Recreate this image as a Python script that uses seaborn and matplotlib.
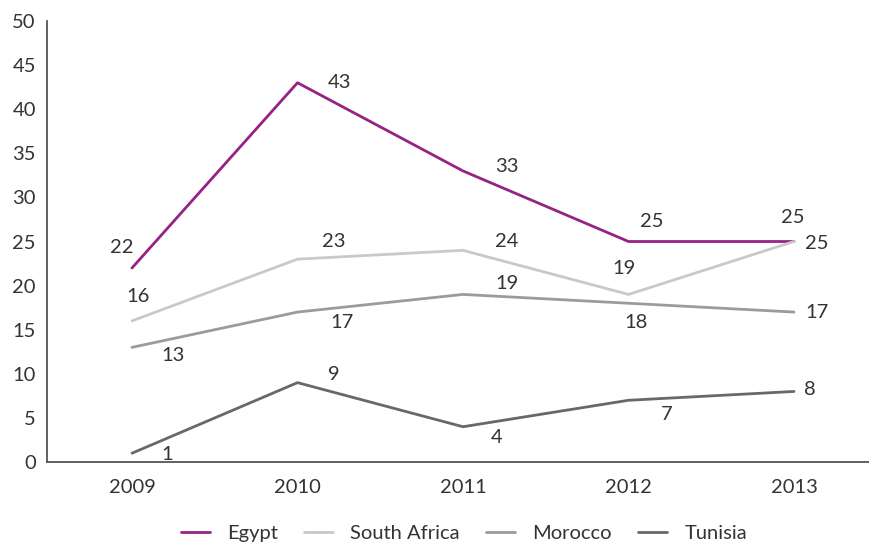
import matplotlib
matplotlib.use("Agg")
import matplotlib.pyplot as plt
import seaborn as sns
import pandas as pd

years = ["2009", "2010", "2011", "2012", "2013"]
countries = ["Egypt", "South Africa", "Morocco", "Tunisia"]
egypt = [22, 43, 33, 25, 25]
south_africa = [16, 23, 24, 19, 25]
morocco = [13, 17, 19, 18, 17]
tunisia = [1, 9, 4, 7, 8]
colors = ["#962283", "#c9c9c9", "#9b9b9b", "#686868"]

series = dict(zip(countries, [egypt, south_africa, morocco, tunisia]))
df = pd.DataFrame(
    [(y, c, v) for c in countries for y, v in zip(years, series[c])],
    columns=["year", "country", "value"],
)

sns.set_theme(style="white")
plt.rcParams["font.family"] = ["Lato", "DejaVu Sans"]

fig = plt.figure(figsize=(8.69, 5.44), dpi=100)
ax = fig.add_axes([0.054, 0.1507, 0.946, 0.8107])

sns.lineplot(data=df, x="year", y="value", hue="country", hue_order=countries,
             palette=colors, linewidth=2.0, ax=ax, sort=False)

ax.set_xlim(-0.514, 4.453)
ax.set_ylim(0, 50)
ax.set_yticks(range(0, 51, 5))
ax.set_xlabel("")
ax.set_ylabel("")
ax.tick_params(axis="both", length=0, labelsize=14.5, colors="#333333", pad=8)
ax.tick_params(axis="x", pad=12)
for s in ["top", "right"]:
    ax.spines[s].set_visible(False)
for s in ["left", "bottom"]:
    ax.spines[s].set_color("#555555")
    ax.spines[s].set_linewidth(1.3)

# value labels, offsets in pixels from each point
offsets = {
    "Egypt": [(-10, 20), (42, 0), (44, 4), (23, 20), (-1, 24)],
    "South Africa": [(6, 24), (36, 18), (44, 9), (-5, 26), (23, -2)],
    "Morocco": [(41, -8), (44, -10), (44, 11), (8, -19), (23, 0)],
    "Tunisia": [(35, -1), (36, 8), (34, -11), (38, -14), (16, 2)],
}
for c in countries:
    for i, v in enumerate(series[c]):
        dx, dy = offsets[c][i]
        ax.annotate(str(v), (i, v), xytext=(dx * 0.72, dy * 0.72),
                    textcoords="offset points", ha="center", va="center",
                    fontsize=14.5, color="#333333")

handles, labels = ax.get_legend_handles_labels()
ax.legend(handles, labels, loc="center", bbox_to_anchor=(0.507, -0.163),
          bbox_transform=ax.transAxes, ncol=4, frameon=False, fontsize=14.5,
          handlelength=1.45, columnspacing=1.3, handletextpad=0.85,
          labelcolor="#333333")

fig.savefig("out.png", dpi=100)
